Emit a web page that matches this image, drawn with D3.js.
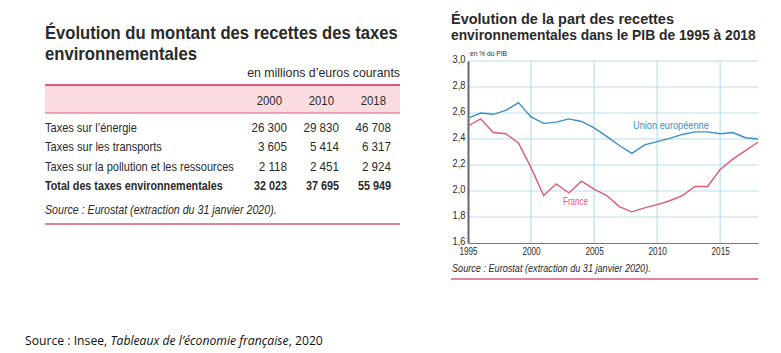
<!DOCTYPE html>
<html><head><meta charset="utf-8">
<script src="https://cdn.jsdelivr.net/npm/d3@7"></script>
<style>
body{margin:0;background:#fff;}
svg{display:block;}
</style></head>
<body><svg id="c" width="781" height="353"></svg>
<script>
// ---- Table data ----
const tableYears = ["2000", "2010", "2018"];
const tableRows = ["Taxes sur l\u2019énergie", "Taxes sur les transports", "Taxes sur la pollution et les ressources", "Total des taxes environnementales"];
const tableValues = [
  ["26 300", "29 830", "46 708"],
  ["3 605", "5 414", "6 317"],
  ["2 118", "2 451", "2 924"],
  ["32 023", "37 695", "55 949"]
];
// ---- Line chart data ----
const years = d3.range(1995, 2019);
const euValues = [2.56,2.60,2.59,2.62,2.68,2.57,2.52,2.53,2.555,2.535,2.485,2.42,2.35,2.29,2.355,2.38,2.405,2.435,2.455,2.455,2.44,2.45,2.41,2.40];
const franceValues = [2.50,2.555,2.45,2.44,2.37,2.18,1.965,2.055,1.985,2.075,2.015,1.965,1.88,1.84,1.87,1.895,1.925,1.965,2.035,2.035,2.165,2.245,2.31,2.375];
const yTicks = [1.6,1.8,2.0,2.2,2.4,2.6,2.8,3.0];
const xTicks = [1995,2000,2005,2010,2015];

const svg = d3.select("#c");
const AF = '"Liberation Sans",Arial,sans-serif';
const red = "#dc5a78", blue = "#3b8ec7", pinkFill = "#fbdde1", ink = "#2a2a2a";

// text helper: compress horizontally to a target width (condensed face look)
function txt(g, str, x, y, o) {
  const t = g.append("text").attr("font-family", o.ff || AF).attr("font-size", o.fs)
    .attr("font-weight", o.bold ? "bold" : "normal").attr("font-style", o.italic ? "italic" : "normal")
    .attr("text-anchor", o.anchor || "start").attr("fill", o.fill || ink).text(str);
  const w = t.node().getComputedTextLength();
  const s = o.w ? o.w / w : (o.s || 1);
  t.attr("transform", `translate(${x},${y}) scale(${s},1)`);
  return t;
}

// ===== Left table =====
const T = svg.append("g");
txt(T, "Évolution du montant des recettes des taxes", 45, 39, {fs:18.5, bold:true, w:353});
txt(T, "environnementales", 45, 60, {fs:18.5, bold:true, w:152});
txt(T, "en millions d\u2019euros courants", 400, 77, {fs:12.5, anchor:"end", w:153});
T.append("rect").attr("x",45).attr("y",85).attr("width",355).attr("height",28).attr("fill",pinkFill);
T.append("line").attr("x1",45).attr("x2",400).attr("y1",85).attr("y2",85).attr("stroke",red).attr("stroke-width",2);
T.append("line").attr("x1",45).attr("x2",400).attr("y1",113).attr("y2",113).attr("stroke",red).attr("stroke-width",1.2);

const colX = d3.scaleOrdinal().domain(tableYears).range([287,339,391]);
tableYears.forEach(d => txt(T, d, colX(d) - 5, 105, {fs:12, anchor:"end", s:0.95}));
const rowY = d3.scalePoint().domain(tableRows).range([132,190]);
const rowW = [92, 117, 189, 178];
tableRows.forEach((r,i)=>{
  const bold = i===tableRows.length-1;
  txt(T, r, 45, rowY(r), {fs:12, bold, w:rowW[i]});
  tableValues[i].forEach((v,j)=>{
    txt(T, v, colX(tableYears[j]), rowY(r), {fs:12, bold, anchor:"end", s: bold ? 0.9 : 0.97});
  });
});
txt(T, "Source : Eurostat (extraction du 31 janvier 2020).", 45, 214, {fs:12, italic:true, w:232});
T.append("line").attr("x1",45).attr("x2",400).attr("y1",224).attr("y2",224).attr("stroke",red).attr("stroke-width",1.5);

// ===== Right chart =====
const C = svg.append("g");
txt(C, "Évolution de la part des recettes", 451, 24, {fs:15.5, bold:true, w:223});
txt(C, "environnementales dans le PIB de 1995 à 2018", 451, 40, {fs:15.5, bold:true, w:305});

const x = d3.scaleLinear().domain([1995,2018]).range([468,758]);
const y = d3.scaleLinear().domain([1.6,3.0]).range([243,61]);

// grid
C.selectAll(".hg").data(yTicks.slice(1)).join("line").attr("x1",468).attr("x2",758)
  .attr("y1",d=>y(d)).attr("y2",d=>y(d)).attr("stroke","#b9dff0").attr("stroke-width",1.2);
C.selectAll(".vg").data(xTicks.slice(1)).join("line").attr("y1",61).attr("y2",243)
  .attr("x1",d=>x(d)).attr("x2",d=>x(d)).attr("stroke","#b9dff0").attr("stroke-width",1.2);

// axes
const yAxis = d3.axisLeft(y).tickValues(yTicks).tickSize(0).tickPadding(3).tickFormat(d=>d3.format(".1f")(d).replace(".",","));
const gy = C.append("g").attr("transform","translate(468,0)").call(yAxis);
gy.select(".domain").attr("stroke","#666").attr("stroke-width",2);
gy.selectAll("text").attr("font-family",AF).attr("font-size",10.5).attr("fill",ink).attr("dy","0.12em").attr("transform","scale(0.88,1)");
const xAxis = d3.axisBottom(x).tickValues(xTicks).tickSize(0).tickPadding(5).tickFormat(d3.format("d"));
const gx = C.append("g").attr("transform","translate(0,243)").call(xAxis);
gx.select(".domain").attr("stroke","#777").attr("stroke-width",1.2);
gx.selectAll("text").attr("font-family",AF).attr("font-size",10.5).attr("fill",ink).attr("transform","scale(0.78,1)");

txt(C, "en % du PIB", 470, 56, {fs:8, w:37});

const line = d3.line().x(d=>x(d[0])).y(d=>y(d[1]));
C.append("path").datum(years.map((yr,i)=>[yr,euValues[i]])).attr("d",line).attr("fill","none").attr("stroke",blue).attr("stroke-width",1.4);
C.append("path").datum(years.map((yr,i)=>[yr,franceValues[i]])).attr("d",line).attr("fill","none").attr("stroke",red).attr("stroke-width",1.4);

txt(C, "Union européenne", 633, 129, {fs:10, fill:blue, w:76});
txt(C, "France", 563, 205, {fs:10, fill:red, w:25});

txt(C, "Source : Eurostat (extraction du 31 janvier 2020).", 452, 272, {fs:10.5, italic:true, w:199});
C.append("line").attr("x1",451).attr("x2",758).attr("y1",279).attr("y2",279).attr("stroke",red).attr("stroke-width",1.5);

// ===== Bottom source =====
const S = svg.append("text").attr("font-family","'Open Sans','Noto Sans',sans-serif").attr("font-size",12).attr("fill","#111");
S.append("tspan").text("Source : Insee, ");
S.append("tspan").attr("font-style","italic").text("Tableaux de l\u2019économie française");
S.append("tspan").text(", 2020");
const sw = S.node().getComputedTextLength();
S.attr("transform", `translate(25,345) scale(${298/sw},1)`);
</script></body></html>
